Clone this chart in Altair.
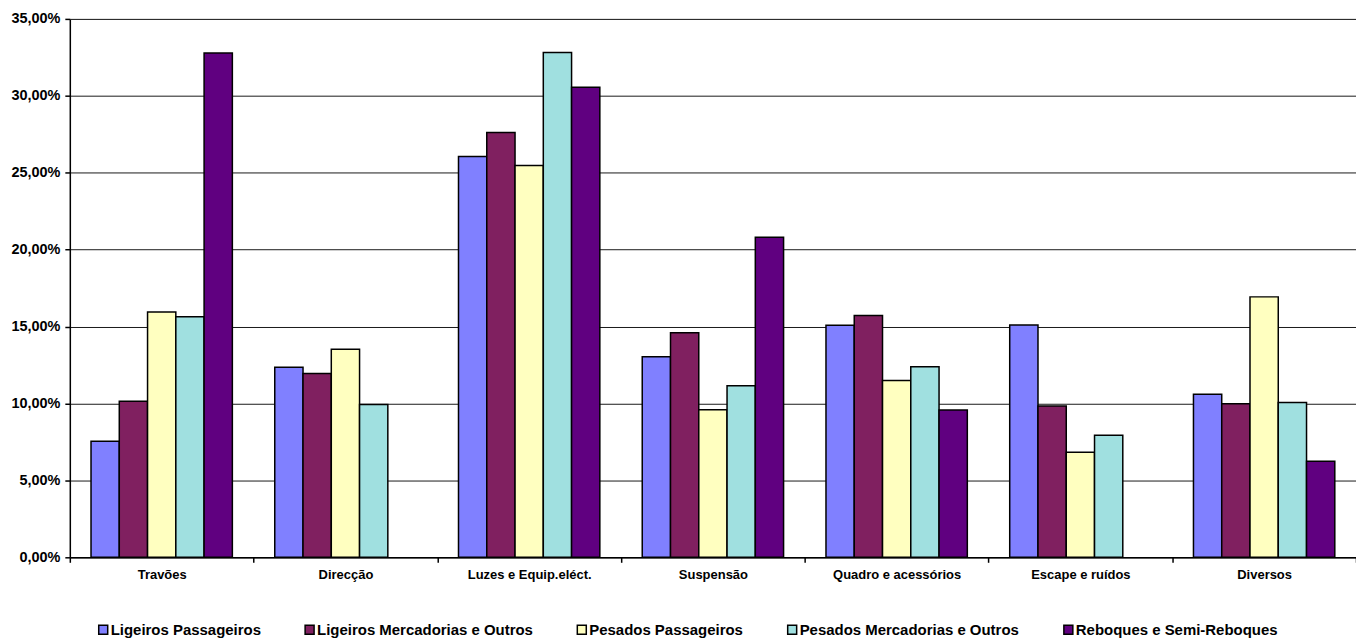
import altair as alt
import pandas as pd

categories = ["Travões", "Direcção", "Luzes e Equip.eléct.", "Suspensão",
              "Quadro e acessórios", "Escape e ruídos", "Diversos"]
series = ["Ligeiros Passageiros", "Ligeiros Mercadorias e Outros",
          "Pesados Passageiros", "Pesados Mercadorias e Outros",
          "Reboques e Semi-Reboques"]
colors = ["#8080FF", "#802060", "#FFFFC0", "#A0E0E0", "#600080"]

# values in percent; None = no bar
ligeiros_passageiros = [7.55, 12.35, 26.05, 13.03, 15.08, 15.10, 10.60]
ligeiros_mercadorias = [10.14, 11.95, 27.62, 14.59, 15.72, 9.83, 9.98]
pesados_passageiros = [15.94, 13.52, 25.47, 9.60, 11.49, 6.83, 16.93]
pesados_mercadorias = [15.64, 9.94, 32.81, 11.15, 12.38, 7.93, 10.06]
reboques = [32.79, None, 30.55, 20.81, 9.57, None, 6.24]

y_ticks = [0, 5, 10, 15, 20, 25, 30, 35]

all_values = [ligeiros_passageiros, ligeiros_mercadorias, pesados_passageiros,
              pesados_mercadorias, reboques]
rows = []
for s, vals in zip(series, all_values):
    for c, v in zip(categories, vals):
        if v is not None:
            rows.append({"cat": c, "series": s, "value": v})
df = pd.DataFrame(rows)

FONT = "Liberation Sans"

chart = alt.Chart(df).mark_bar(stroke="black", strokeWidth=1.5).encode(
    x=alt.X("cat:N", sort=categories,
            scale=alt.Scale(paddingInner=0, paddingOuter=0),
            axis=alt.Axis(title=None, labelAngle=0, tickBand="extent",
                          domainColor="black", domainWidth=1.5,
                          tickColor="black", tickWidth=1.5, tickSize=5,
                          labelFont=FONT, labelFontWeight="bold",
                          labelFontSize=13, labelColor="black",
                          labelPadding=6, labelLimit=0, grid=False)),
    xOffset=alt.XOffset("series:N", sort=series,
                        scale=alt.Scale(domain=series, paddingInner=0,
                                        paddingOuter=0.75)),
    y=alt.Y("value:Q",
            scale=alt.Scale(domain=[0, 35], nice=False),
            axis=alt.Axis(title=None, values=y_ticks,
                          labelExpr="replace(format(datum.value, '.2f'), '.', ',') + '%'",
                          domainColor="black", domainWidth=1.5,
                          tickColor="black", tickWidth=1.5, tickSize=5,
                          labelFont=FONT, labelFontWeight="bold",
                          labelFontSize=14.5, labelColor="black",
                          labelPadding=5,
                          grid=True, gridColor="black", gridWidth=1,
                          gridOpacity=0.9)),
    color=alt.Color("series:N",
                    scale=alt.Scale(domain=series, range=colors),
                    legend=alt.Legend(title=None, orient="none",
                                      legendX=26, legendY=605,
                                      direction="horizontal", columns=5,
                                      symbolType="square", symbolSize=81,
                                      symbolStrokeColor="black",
                                      symbolStrokeWidth=1.5,
                                      symbolOpacity=1,
                                      labelFont=FONT, labelFontWeight="bold",
                                      labelFontSize=15, labelColor="black",
                                      labelLimit=0,
                                      labelOffset=0, columnPadding=41)),
).properties(
    width=1290, height=540,
    autosize=alt.AutoSizeParams(type="none"),
    padding={"left": 62, "top": 10, "right": 0, "bottom": 82},
).configure_view(stroke=None).configure(background="white")

chart.save("out.html", embed_options={"renderer": "svg", "actions": False})
